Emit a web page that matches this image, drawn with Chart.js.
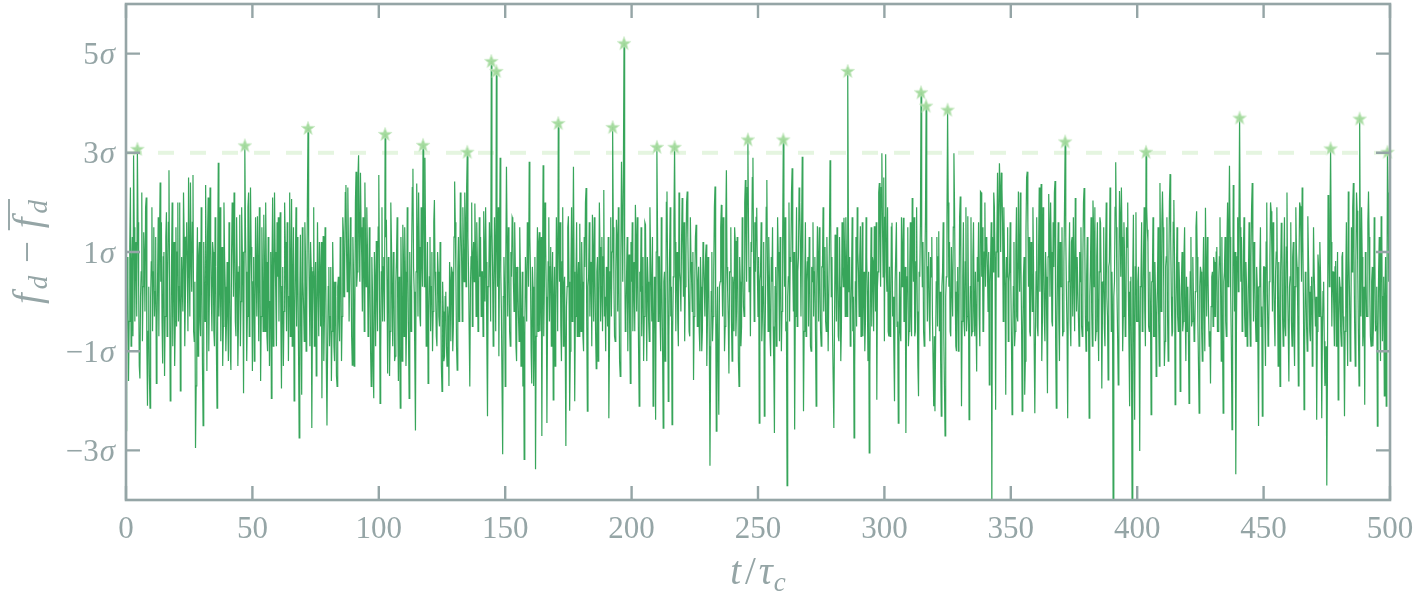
<!DOCTYPE html>
<html>
<head>
<meta charset="utf-8">
<script src="https://cdn.jsdelivr.net/npm/chart.js@4.4.1/dist/chart.umd.min.js"></script>
<style>
html,body{margin:0;padding:0;background:#ffffff;}
#wrap{width:1414px;height:596px;position:relative;}
</style>
</head>
<body>
<div id="wrap"><canvas id="c" width="1414" height="596"></canvas></div>
<script>
// ---- data: f_d - mean(f_d) in units of sigma ----
// samples at t/tau_c = 0, 0.5, 1.0, ... 500
const samplesOnGrid = [
-2.6,0.9,-1.6,1.1,-0.9,1.3,2.95,-0.4,1.2,3.08,0.3,-1.55,0.6,-0.8,1.4,-0.2,2.1,-2.1,0.3,-2.15,
0.8,-0.6,1.5,0.2,-1.65,0.5,-0.7,2.4,1.6,-1.25,1.0,-0.3,1.8,0.4,2.65,-2.0,0.7,-0.9,1.2,-0.4,
-0.5,2.0,0.3,-1.8,0.9,-0.2,1.3,0.1,1.6,-0.6,0.8,2.4,0.2,2.55,-0.8,-2.95,0.5,-1.1,1.2,-0.7,
0.6,-2.5,0.4,2.35,-1.4,2.1,0.2,1.3,-0.6,1.0,-0.9,0.7,-2.15,2.8,0.3,-0.8,1.1,-0.5,0.9,-1.0,
0.8,-1.2,0.5,-1.38,2.0,0.1,1.2,-0.7,0.6,-0.4,1.75,0.0,1.0,-1.85,3.15,0.6,-0.3,2.2,0.4,1.1,
-1.4,0.9,-0.5,0.6,1.72,-0.8,0.9,-0.3,0.5,1.75,-0.6,0.8,-1.0,0.4,0.0,-1.95,2.1,0.2,1.0,-0.9,
0.5,-0.4,1.8,-1.75,0.7,-0.2,1.2,-0.6,0.9,0.1,-0.7,2.07,0.3,-2.0,0.8,-0.5,0.6,-2.75,1.35,-1.88,
0.4,-0.8,0.9,-0.3,3.5,0.2,1.2,-2.55,0.6,-0.9,0.8,-0.4,0.3,1.2,-0.5,-1.95,1.32,-0.3,0.7,-2.5,
0.3,-0.9,0.7,-0.6,0.4,-1.2,0.1,-1.71,0.5,-0.8,1.0,-0.3,1.4,0.6,2.35,0.2,1.1,-0.4,0.8,-1.28,
0.6,-0.5,2.62,0.6,2.95,0.4,1.5,-0.2,0.9,2.4,0.3,1.1,-0.4,0.5,-1.71,0.2,-1.95,0.4,1.22,-0.6,
2.55,-2.05,0.6,-0.4,0.9,3.38,1.65,-1.45,0.8,-0.6,1.2,-0.9,0.4,-1.1,0.9,-0.3,0.5,-2.15,0.2,1.55,
-0.7,0.6,-0.4,0.8,-1.95,0.3,1.0,2.68,0.2,-2.6,2.38,-0.3,1.1,-0.5,0.9,3.16,0.3,1.2,-0.2,-1.65,
0.5,-0.6,1.0,-0.2,2.05,0.1,-0.9,0.6,-0.5,0.3,-1.81,-0.2,-1.1,0.2,-1.3,-0.4,0.8,-0.8,0.6,-0.5,
2.42,0.5,-1.38,1.3,0.2,1.6,-0.4,1.1,2.2,0.3,3.02,0.6,-1.71,0.9,-0.5,1.2,1.98,-0.3,0.8,0.1,
0.5,-0.3,0.6,1.82,0.0,0.8,-2.31,0.4,0.9,4.85,0.7,0.2,0.9,4.65,0.3,-1.1,2.9,-0.2,-3.08,0.9,
-1.71,2.72,-0.3,0.8,-0.9,0.5,1.65,-0.2,0.7,-1.2,0.4,-0.8,0.6,-0.5,-1.71,-3.18,0.9,-0.4,1.3,2.82,
0.6,-1.65,0.3,-0.8,-3.38,0.4,-0.6,1.4,0.2,-2.71,2.75,0.3,1.2,-2.45,0.8,-0.4,1.1,0.2,-1.98,0.7,
-0.3,0.9,3.6,0.4,-0.5,0.8,-0.9,0.5,-2.91,0.3,1.72,-2.2,0.6,-0.4,2.72,-2.01,0.5,-0.7,0.8,1.57,
-0.6,0.4,-1.0,0.7,2.29,-2.21,0.5,-0.3,0.8,1.75,-0.4,0.6,-1.35,0.9,-0.2,1.1,0.3,-0.6,2.25,0.1,
0.7,-0.5,-2.35,0.6,-0.3,3.52,0.4,-0.8,1.65,-0.2,0.3,-1.51,2.82,0.4,5.21,-0.6,0.5,-1.0,0.95,-1.65,
0.4,-0.6,0.8,1.95,-0.2,0.5,-2.11,0.2,-0.7,0.9,-0.3,1.55,-1.2,0.4,-0.8,1.0,-0.4,-2.11,0.5,-2.38,
3.12,-0.4,0.9,-1.0,0.3,-2.55,0.6,-0.5,2.22,-2.01,0.8,-0.3,-2.48,0.5,3.12,-0.6,1.0,-0.9,0.6,-0.2,
2.09,0.1,-0.8,0.9,2.22,0.3,-0.7,0.8,-0.2,-1.58,0.4,1.55,-0.5,0.7,-1.0,0.3,-0.6,0.9,-0.3,1.15,
-0.4,0.5,-3.31,0.2,-0.8,0.6,2.32,-2.61,0.3,-2.28,0.4,1.95,-0.3,0.8,-0.5,2.65,0.2,-1.45,0.6,-0.4,
0.5,-0.6,1.22,-0.2,0.7,-1.71,0.4,-0.5,0.75,-0.3,2.45,0.4,3.27,0.2,-0.7,1.0,2.9,-0.4,0.6,1.89,
-0.3,-2.45,0.6,-0.8,0.3,-2.31,0.2,2.45,-0.6,0.5,-1.1,0.4,-0.5,-2.65,0.7,-0.4,1.0,-0.8,0.6,-0.2,
3.27,0.3,-0.6,-3.71,0.5,-0.4,0.8,2.69,-0.2,-2.58,0.6,-0.5,0.9,2.0,-0.3,2.92,-2.21,0.4,-0.7,0.8,
-0.5,0.6,-1.0,0.4,-0.3,0.9,-2.11,1.52,-0.4,0.5,-0.9,0.7,-0.2,1.1,-0.6,0.3,-1.0,2.85,0.1,-0.7,
-2.55,1.35,-0.4,0.6,-0.8,0.3,-0.5,0.7,1.69,-0.3,0.8,4.65,0.2,-0.9,0.5,-0.6,-2.75,0.4,-0.5,1.0,
-0.3,1.52,0.2,-0.7,0.6,-0.4,0.9,-1.2,-3.05,0.3,-0.5,0.8,1.52,-0.2,-1.98,0.6,2.39,0.3,2.99,0.5,
-0.8,2.97,0.2,-0.6,0.7,-0.3,1.59,0.1,-2.01,0.4,-0.5,-2.45,0.6,-0.8,0.3,1.69,-0.4,-2.65,0.5,-0.9,
0.6,-0.3,2.09,0.4,-0.7,0.8,-0.2,-1.91,0.5,4.22,0.3,-0.6,0.7,3.95,-0.4,1.0,-0.8,0.5,-0.3,-2.11,
-2.21,0.4,-0.5,1.42,0.2,-2.31,0.6,-0.7,-2.71,0.5,3.87,0.3,-0.6,1.1,-0.3,2.99,0.2,-1.0,0.7,-0.4,
2.12,-2.11,0.5,-0.4,0.8,-0.6,1.72,-2.38,0.3,-0.7,0.9,-0.2,0.6,-1.41,0.4,-0.3,2.22,0.5,-0.6,1.0,
0.3,1.2,-0.2,-1.68,0.8,-4.3,0.6,1.92,-2.18,1.3,0.5,2.79,1.0,2.3,-0.4,0.9,-1.88,0.5,-0.8,0.6,
0.4,-2.28,0.3,-0.9,1.0,-0.3,2.22,0.2,0.8,-2.21,0.5,-1.88,1.4,2.62,0.3,-0.6,1.2,-0.2,0.7,-2.25,
0.6,-0.5,1.1,0.2,2.37,-0.4,0.9,-0.8,0.5,-1.85,2.17,0.1,1.0,-0.5,0.7,2.43,-2.15,0.6,-0.4,1.2,
0.3,-0.7,0.8,3.23,0.2,-2.35,0.7,-0.4,1.2,-0.3,0.5,2.09,-0.2,0.9,-0.9,0.4,-0.5,0.8,2.29,-0.3,
0.5,-0.6,-2.35,0.7,-0.2,2.04,0.3,-0.8,0.9,-0.4,0.6,1.59,-1.75,0.4,-0.5,1.0,0.1,-1.58,0.8,1.4,
0.6,-4.5,0.4,2.81,0.2,-1.68,2.23,0.5,1.3,-0.3,0.9,-0.6,1.1,0.2,-2.11,0.5,-4.4,1.75,-2.38,1.8,
-0.4,0.7,-3.01,0.5,-0.6,0.9,-0.2,3.02,1.45,-0.5,0.6,-2.28,0.4,-0.7,0.8,-1.51,0.3,-0.4,2.39,-0.2,
2.22,0.3,-0.8,0.9,-0.3,0.6,2.57,0.1,-0.6,2.05,-2.08,0.5,-0.3,0.8,-1.81,0.4,-0.6,0.9,-0.2,0.5,
0.3,-2.05,0.6,-0.5,0.9,-0.8,0.2,1.82,-0.4,-2.25,0.7,-0.6,0.4,-0.2,1.89,-0.3,0.6,-0.9,-1.65,0.5,
-0.5,0.8,-0.3,1.1,-0.6,0.9,0.2,1.3,-2.25,0.6,-0.4,1.2,0.3,2.74,0.1,-2.58,2.35,-0.2,-3.48,0.9,
0.2,3.71,0.4,-0.6,1.0,-0.3,0.8,-0.9,0.5,-0.2,0.9,2.39,-0.4,0.7,-0.8,0.3,-2.51,0.6,-0.5,-2.31,
0.7,-0.4,1.2,0.1,-0.7,0.9,1.82,-0.2,0.6,-0.9,1.0,0.2,0.8,-1.71,1.59,-0.3,0.7,-0.5,1.1,0.3,
-1.61,0.5,-0.4,0.9,-0.6,0.3,1.0,-0.2,0.7,1.92,0.4,1.3,-2.18,0.6,-0.5,1.72,0.2,-0.8,0.5,-0.3,
0.6,-0.5,-2.38,0.95,-0.3,0.6,-2.35,0.2,-0.8,-1.5,-3.71,2.15,0.3,3.09,-0.5,0.6,-0.9,0.82,-0.2,-1.98,
0.5,-0.6,0.9,-0.3,-2.31,0.4,-0.2,2.22,0.1,-0.7,0.6,2.39,-0.4,0.8,1.83,-0.6,3.69,-0.3,0.9,-0.5,
-2.08,0.6,-0.3,2.22,0.2,-0.9,0.7,-0.4,1.0,-0.5,-2.51,0.6,-0.3,1.72,-0.8,0.5,0.1,-2.11,3.02,0.4,-0.6
];
// samples at t/tau_c = 0.25, 0.75, ... 499.75
const samplesBetween = [
-0.9,0.3,-0.4,2.3,0.6,-0.7,1.5,1.0,-0.3,1.6,-1.3,0.1,2.2,0.3,0.9,1.9,-0.9,-0.6,-1.5,0.1,
1.9,0.6,-0.3,1.3,-0.6,1.7,1.2,0.4,-0.4,0.9,-1.5,1.3,-0.7,1.6,0.3,-1.2,2.0,0.7,-1.3,1.5,
1.0,-0.4,2.0,-0.6,0.3,2.2,-0.9,1.3,0.6,2.5,-0.3,0.9,1.6,-0.6,0.4,-1.7,1.5,0.9,-0.4,1.9,
-1.3,1.2,-0.4,0.7,1.3,-1.0,2.3,0.1,1.2,-0.6,1.7,-0.9,0.6,-0.3,1.9,0.9,-1.3,2.0,0.3,-0.4,
-0.3,1.6,-1.0,0.9,1.3,2.2,-0.4,1.7,-1.3,0.7,-0.9,1.9,0.3,1.0,1.5,-1.2,1.9,-0.7,2.3,0.3,
0.4,-1.2,1.7,-0.3,0.6,1.9,-1.6,1.5,-0.6,0.9,2.0,-0.7,1.3,-1.3,1.0,0.7,-0.9,2.2,0.1,1.6,
1.7,0.9,-0.4,0.3,-1.3,2.0,0.4,1.6,-1.2,2.2,0.6,-0.9,1.5,-0.4,1.9,1.3,-1.0,0.1,-0.6,1.5,
-0.1,1.6,-1.0,2.0,1.3,-0.9,0.7,-0.3,1.9,0.3,-1.5,1.6,-0.7,0.6,1.2,0.4,-1.2,1.5,-1.3,-0.9,
0.7,-0.3,-1.6,1.2,-0.9,0.4,-1.5,0.3,-0.4,1.3,-1.2,1.7,0.1,2.2,1.0,2.3,-0.4,1.7,-0.7,1.3,
-1.3,2.0,0.3,2.5,1.3,2.6,0.9,1.7,-0.6,1.2,1.9,-0.7,1.5,-1.0,0.9,-1.3,1.0,-0.9,0.4,1.5,
0.6,-1.0,1.9,0.7,-0.4,1.3,0.3,0.9,-1.5,2.0,0.1,1.0,-1.2,0.4,1.7,-1.6,-0.9,1.3,-1.2,0.9,
1.5,-1.3,1.9,-0.7,1.0,-0.6,2.3,0.7,-1.2,0.6,1.3,2.2,-0.3,1.9,0.3,2.0,2.9,-0.9,1.2,-0.4,
1.3,0.3,-1.0,1.6,0.6,-0.7,1.0,-0.3,1.2,-1.3,0.4,-1.2,0.1,-0.9,-0.1,-1.7,0.4,0.7,-1.0,1.3,
1.6,-0.9,0.6,-0.4,2.2,0.9,1.9,0.4,1.7,2.3,1.3,-0.6,0.3,2.0,0.9,0.4,1.0,1.6,-0.6,1.7,
1.3,0.6,-0.7,1.0,1.9,-0.9,0.3,1.6,-0.4,1.5,-0.9,1.7,-0.6,1.2,1.9,0.9,0.6,-1.7,0.1,0.3,
0.9,1.3,1.5,-0.6,1.0,1.7,0.4,1.6,-0.9,0.7,-0.3,1.5,-1.3,0.6,-0.3,-0.7,0.4,1.6,0.3,1.3,
-1.0,0.7,-1.7,0.9,-0.7,1.5,1.2,-0.6,1.3,0.4,-0.7,2.0,0.1,-0.4,1.7,0.7,-0.9,1.0,0.0,-1.3,
1.7,-0.6,1.2,1.6,-1.2,1.9,0.3,-0.9,-0.1,1.5,0.4,-1.0,1.9,0.9,0.6,-0.3,1.6,0.4,-0.7,0.3,
1.2,-0.7,1.3,2.0,-0.4,0.3,1.6,0.7,-0.9,1.0,1.7,-0.6,0.6,-1.2,2.0,-0.4,1.3,0.9,-0.3,-1.0,
0.3,1.3,-0.9,1.7,1.0,1.5,-0.7,0.6,1.3,1.9,-1.2,0.9,1.7,2.6,1.2,-0.3,1.3,0.4,-0.6,1.2,
1.6,0.4,-0.6,1.3,1.7,-0.9,0.6,1.5,0.3,-1.2,1.6,0.1,0.9,-0.4,1.9,0.3,1.3,-0.7,-0.4,1.0,
1.5,0.9,-0.3,1.7,-0.9,0.4,-1.2,2.0,0.6,-0.7,1.9,0.3,-0.6,1.6,1.2,0.7,-0.4,2.2,0.4,1.2,
1.2,1.6,0.3,2.0,1.3,-0.6,1.7,0.4,1.0,-0.3,1.3,0.7,0.4,-0.6,0.9,-1.0,1.2,0.3,0.9,-1.3,
0.9,-0.9,-1.3,1.0,-0.3,1.9,0.1,-0.6,-1.3,0.3,1.5,0.6,1.7,-1.0,1.6,0.7,-0.4,0.6,1.5,-1.2,
0.3,1.5,-0.7,1.3,-1.2,0.9,-0.9,1.7,-0.1,2.0,1.3,2.3,1.5,0.7,1.2,2.5,0.9,1.6,1.7,0.6,
0.9,0.4,1.6,-0.3,1.2,-0.9,1.9,0.6,1.3,-0.7,0.9,1.5,-1.3,0.3,-0.9,1.7,0.4,1.3,-1.0,1.2,
1.3,1.7,-0.4,0.1,2.0,0.9,2.2,0.7,1.0,-0.3,1.9,0.6,2.3,1.2,1.5,0.3,-0.6,1.6,0.4,0.9,
1.3,-0.9,0.7,1.6,0.6,-0.7,0.3,0.9,1.5,-0.6,0.7,1.9,0.6,-0.4,1.3,-1.0,1.2,1.7,0.9,-1.6,
-0.6,0.9,1.5,-0.7,1.3,-1.2,1.6,0.3,1.0,1.7,-0.3,1.6,0.9,-0.3,1.7,0.1,-1.3,1.3,1.9,0.6,
0.9,-0.7,1.6,0.4,-1.0,1.7,0.1,0.6,-1.3,1.5,0.9,-0.6,0.7,1.6,0.3,2.2,1.3,2.3,1.5,2.5,
1.7,0.6,1.9,-0.7,-0.7,1.5,-0.3,-1.0,0.4,1.6,-0.4,-0.9,-0.6,1.7,1.0,-0.4,0.7,-0.3,1.5,-0.6,
1.6,-0.7,1.2,1.7,-0.6,1.9,-1.3,0.6,1.6,1.3,1.2,-0.9,1.7,0.9,0.7,-0.3,0.9,1.3,-1.2,-0.7,
-0.9,1.3,0.9,-0.6,-1.2,0.3,1.6,-1.7,0.1,1.7,2.0,1.2,-0.7,0.3,1.5,1.9,-0.9,0.4,-1.0,1.7,
0.6,-0.4,1.6,-0.7,1.9,-0.3,0.1,-0.6,1.7,-0.6,1.6,-0.7,-0.4,0.9,1.6,-0.9,2.2,1.5,-0.6,2.0,
1.3,0.7,1.0,0.4,1.6,1.3,2.2,0.9,1.0,2.6,1.7,2.3,2.6,1.6,1.9,0.3,0.9,1.5,0.4,1.6,
-0.7,-0.9,1.2,-0.6,1.9,-0.4,0.9,2.2,-0.4,-0.6,0.9,-1.2,2.5,1.6,1.3,-0.7,0.6,1.9,-0.9,-0.7,
1.7,-0.7,2.3,1.5,-1.2,1.9,-0.3,1.0,-0.6,0.9,1.5,2.0,-0.4,1.6,2.2,-0.9,-0.4,1.6,-1.2,0.3,
1.5,-0.6,1.9,1.3,-0.6,0.4,1.6,-0.9,1.3,1.7,-0.6,1.2,0.9,-0.3,1.0,1.5,-0.7,2.0,1.3,-1.0,
1.3,-0.4,0.1,1.7,-0.9,1.5,1.9,-0.6,1.6,-1.2,1.7,0.4,-0.3,1.5,-0.9,2.0,-0.3,0.7,2.3,-0.6,
-0.3,0.1,1.9,1.5,-0.7,0.6,1.7,2.3,-1.0,1.6,-0.7,1.5,2.0,-0.9,0.4,-1.2,0.6,-0.9,0.7,-0.4,
0.4,-0.7,0.3,1.6,-0.4,1.9,-0.9,1.9,1.2,-0.6,-0.1,0.4,1.7,-0.7,0.1,-0.3,1.5,-1.3,1.0,1.6,
1.5,-1.3,0.7,1.7,-1.2,2.0,1.3,-0.7,1.6,0.9,-0.4,1.5,-0.6,0.3,-0.3,1.0,-0.4,1.5,-1.2,-0.6,
-0.7,-0.3,1.3,-0.4,0.1,-0.7,1.5,0.9,-1.3,0.3,0.6,-1.2,1.3,-1.0,0.7,1.3,-0.3,-0.6,-0.1,0.6,
0.9,-0.3,1.0,-0.6,0.4,1.7,-1.2,-0.7,0.4,1.3,-0.7,2.0,1.5,1.3,-0.9,-0.4,1.2,1.0,-0.6,1.7,
1.6,1.5,1.3,-0.4,1.7,-0.7,0.3,-0.6,1.6,-0.9,1.9,1.0,1.2,-0.3,0.7,-0.9,0.3,1.5,-0.1,-0.4,
0.7,-1.3,2.0,-0.9,0.4,2.0,1.0,1.6,-0.3,0.6,1.9,-1.3,-0.3,0.6,1.2,-0.9,1.7,-0.7,2.2,-0.6,
0.3,1.6,-0.9,1.2,-1.3,1.9,0.7,-1.7,2.0,1.3,2.3,0.1,-0.9,0.4,-1.0,0.9,-0.6,0.3,-1.3,1.5,
0.6,0.1,-0.6,0.7,1.2,-0.3,-0.7,0.4,-1.7,-0.9,-1.5,1.3,1.6,1.2,0.6,-0.1,0.7,-0.9,1.0,-0.4,
0.3,-0.9,1.0,-0.7,-0.6,1.6,-1.3,0.9,-1.2,1.5,1.9,1.0,-1.3,2.2,0.6,-1.7,1.2,1.9,-0.9,0.3,
1.0,-0.3,1.6,1.3,-0.7,0.4,-0.9,1.7,-0.6,0.3,-0.7,1.3,-1.2,1.5,0.1,-1.9,0.9,-0.6,2.2,1.2
];
const sampleStep = 0.25;           // t/tau_c between consecutive samples
const thresholdSigma = 3;          // peaks above this level are starred
const thresholdSpanT = [0, 500];
const xRange = [0, 500];
const xTickStep = 50;
const yRange = [-4, 6];
const yTickValues = [-3, -1, 1, 3, 5];
const yTickNumbers = ['\u22123', '\u22121', '1', '3', '5'];
const yTickUnit = '\u03c3';

// ---- styling ----
const AXIS = '#95a5a6';
const LINE = 'rgba(40,158,78,0.93)';
const STAR = 'rgba(161,217,155,0.95)';
const DASH = '#e5f5e0';
const SERIF = "'Liberation Serif','DejaVu Serif',serif";

// interleave the two typed sample lists in time order
const fluctuation = [];
samplesOnGrid.forEach((v, i) => {
  fluctuation.push(v);
  if (i < samplesBetween.length) fluctuation.push(samplesBetween[i]);
});
const seriesPoints = fluctuation.map((v, i) => ({x: i * sampleStep, y: v}));
const peakPoints = seriesPoints.filter(p => p.y > thresholdSigma);
const thresholdPoints = thresholdSpanT.map(t => ({x: t, y: thresholdSigma}));

// filled five-point star marker
const starMarker = (() => {
  const c = document.createElement('canvas');
  c.width = 16; c.height = 16;
  const g = c.getContext('2d');
  g.beginPath();
  for (let k = 0; k < 10; k++) {
    const r = k % 2 ? 3.0 : 7.2;
    const a = -Math.PI / 2 + k * Math.PI / 5;
    const px = 8 + r * Math.cos(a), py = 8.6 + r * Math.sin(a);
    if (k) g.lineTo(px, py); else g.moveTo(px, py);
  }
  g.closePath();
  g.fillStyle = STAR;
  g.fill();
  g.strokeStyle = 'rgba(205,236,200,0.9)';
  g.lineWidth = 0.8;
  g.stroke();
  return c;
})();

function drawPieces(ctx, pieces, x, y, align) {
  let total = 0;
  pieces.forEach(p => { ctx.font = p.font; p.w = ctx.measureText(p.t).width; total += p.w + (p.gap || 0); });
  let cx = align === 'center' ? x - total / 2 : (align === 'right' ? x - total : x);
  ctx.textAlign = 'left';
  ctx.textBaseline = 'alphabetic';
  const pos = [];
  pieces.forEach(p => {
    ctx.font = p.font;
    ctx.fillText(p.t, cx, y + (p.dy || 0));
    pos.push([cx, cx + p.w]);
    cx += p.w + (p.gap || 0);
  });
  return pos;
}

const decorations = {
  id: 'decorations',
  afterDatasetsDraw(chart) {
    const {ctx, chartArea: a, scales: {x, y}} = chart;
    ctx.save();
    // frame
    ctx.strokeStyle = AXIS;
    ctx.lineWidth = 2.6;
    ctx.strokeRect(a.left, a.top, a.right - a.left, a.bottom - a.top);
    // inward ticks on all four sides
    ctx.lineWidth = 2.4;
    ctx.beginPath();
    y.ticks.forEach(tk => {
      const py = y.getPixelForValue(tk.value);
      ctx.moveTo(a.left, py); ctx.lineTo(a.left + 14, py);
      ctx.moveTo(a.right, py); ctx.lineTo(a.right - 14, py);
    });
    x.ticks.forEach(tk => {
      const px = x.getPixelForValue(tk.value);
      ctx.moveTo(px, a.bottom); ctx.lineTo(px, a.bottom - 14);
      ctx.moveTo(px, a.top); ctx.lineTo(px, a.top + 14);
    });
    ctx.stroke();

    ctx.fillStyle = AXIS;
    const roman = '31px ' + SERIF;
    const ital = 'italic 31px ' + SERIF;
    // y tick labels
    y.ticks.forEach(tk => {
      const i = yTickValues.indexOf(tk.value);
      const py = y.getPixelForValue(tk.value);
      drawPieces(ctx, [{t: yTickNumbers[i], font: roman, gap: 1}, {t: yTickUnit, font: ital}], a.left - 11, py + 10.5, 'right');
    });
    // x tick labels
    x.ticks.forEach(tk => {
      const px = x.getPixelForValue(tk.value);
      ctx.font = roman;
      ctx.textAlign = 'center';
      ctx.textBaseline = 'alphabetic';
      ctx.fillText(String(tk.value), px, a.bottom + 38);
    });
    // x title  t / tau_c
    const tf = 'italic 39px ' + SERIF;
    const tr = '39px ' + SERIF;
    const ts = 'italic 27px ' + SERIF;
    drawPieces(ctx, [
      {t: 't', font: tf, gap: 4},
      {t: '/', font: tr, gap: 3},
      {t: '\u03c4', font: tf, gap: 1},
      {t: 'c', font: ts, dy: 7}
    ], (a.left + a.right) / 2, 584, 'center');
    // y title  f_d - overline(f_d)
    ctx.translate(40, (a.top + a.bottom) / 2);
    ctx.rotate(-Math.PI / 2);
    const pos = drawPieces(ctx, [
      {t: 'f', font: tf, gap: 4},
      {t: 'd', font: ts, dy: 7, gap: 3},
      {t: ' \u2212 ', font: tr, gap: 3},
      {t: 'f', font: tf, gap: 4},
      {t: 'd', font: ts, dy: 7}
    ], 0, 0, 'center');
    ctx.strokeStyle = AXIS;
    ctx.lineWidth = 1.9;
    ctx.beginPath();
    ctx.moveTo(pos[3][0] - 2, -31);
    ctx.lineTo(pos[4][1] + 1, -31);
    ctx.stroke();
    ctx.restore();
  }
};

new Chart(document.getElementById('c'), {
  type: 'line',
  data: {
    datasets: [
      {
        data: peakPoints,
        showLine: false,
        pointStyle: starMarker,
        pointRadius: 0.5,
        borderWidth: 0,
        clip: false,
        order: 0
      },
      {
        data: seriesPoints,
        borderColor: LINE,
        borderWidth: 1.2,
        pointRadius: 0,
        tension: 0,
        order: 1
      },
      {
        data: thresholdPoints,
        borderColor: DASH,
        borderWidth: 4,
        borderDash: [16, 16],
        pointRadius: 0,
        order: 2
      }
    ]
  },
  options: {
    responsive: false,
    animation: false,
    devicePixelRatio: 1,
    parsing: false,
    normalized: true,
    layout: {padding: {left: 0, right: 24, top: 1, bottom: 0}},
    plugins: {legend: {display: false}, tooltip: {enabled: false}},
    scales: {
      x: {
        type: 'linear',
        min: xRange[0], max: xRange[1],
        ticks: {display: false, stepSize: xTickStep},
        grid: {display: false, drawTicks: false},
        border: {display: false},
        afterFit: s => { s.height = 96; }
      },
      y: {
        type: 'linear',
        min: yRange[0], max: yRange[1],
        afterBuildTicks: s => { s.ticks = yTickValues.map(v => ({value: v})); },
        ticks: {display: false},
        grid: {display: false, drawTicks: false},
        border: {display: false},
        afterFit: s => { s.width = 126; }
      }
    }
  },
  plugins: [decorations]
});
</script>
</body>
</html>
